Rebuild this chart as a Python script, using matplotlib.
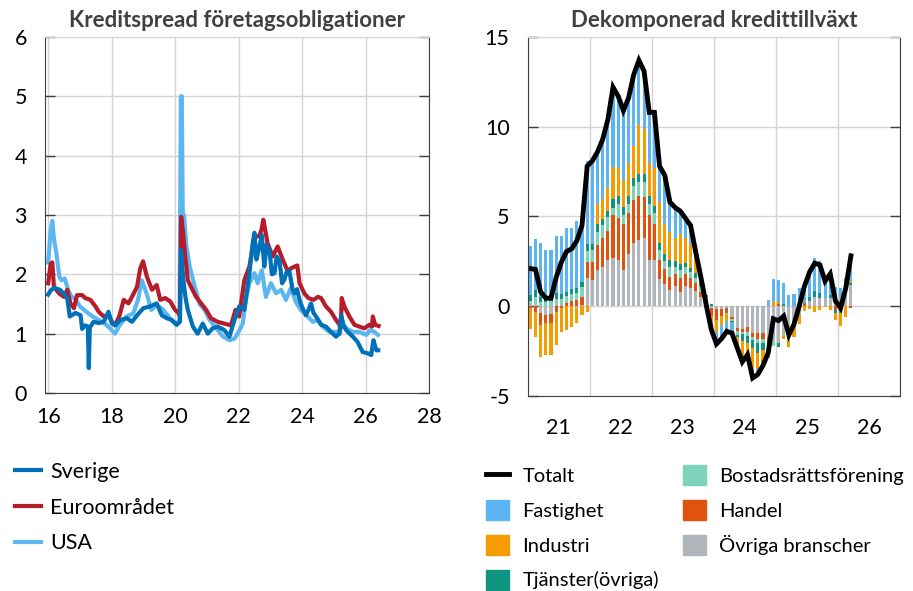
import numpy as np
import matplotlib.pyplot as plt
from matplotlib.lines import Line2D
from matplotlib.patches import Patch

plt.rcParams['font.family'] = ['Lato', 'DejaVu Sans']
plt.rcParams['axes.unicode_minus'] = False

# ---- vänster: kreditspread (procentenheter), x = år (16 = 2016)
se_x = [16.0, 16.1, 16.2, 16.37, 16.52, 16.6, 16.68, 16.86, 17.02, 17.07, 17.17, 17.25, 17.28, 17.31,
        17.43, 17.59, 17.75, 17.9, 18.01, 18.11, 18.27, 18.48, 18.64, 18.8, 19.0, 19.21, 19.42, 19.58,
        19.74, 19.9, 20.05, 20.15, 20.19, 20.23, 20.27, 20.33, 20.4, 20.56, 20.71, 20.87, 21.03, 21.18,
        21.34, 21.55, 21.71, 21.87, 22.02, 22.18, 22.34, 22.45, 22.5, 22.56, 22.65, 22.73, 22.81, 22.88,
        22.97, 23.05, 23.13, 23.2, 23.29, 23.37, 23.44, 23.52, 23.6, 23.7, 23.76, 23.84, 23.92, 24.0,
        24.12, 24.2, 24.28, 24.36, 24.44, 24.6, 24.75, 24.91, 25.07, 25.17, 25.23, 25.3, 25.39, 25.5,
        25.6, 25.75, 25.91, 26.07, 26.18, 26.22, 26.25, 26.34, 26.4]
se_y = [1.66, 1.74, 1.77, 1.74, 1.66, 1.6, 1.29, 1.35, 1.31, 1.08, 1.14, 1.12, 0.42, 1.1,
        1.2, 1.18, 1.2, 1.37, 1.17, 1.14, 1.23, 1.26, 1.2, 1.31, 1.43, 1.46, 1.51, 1.31,
        1.26, 1.23, 1.15, 1.2, 2.41, 2.1, 1.85, 1.6, 1.4, 1.12, 1.0, 1.17, 1.0, 1.09,
        1.12, 1.06, 0.95, 1.23, 1.46, 1.4, 2.02, 2.55, 2.7, 2.25, 2.45, 2.66, 2.13, 2.5,
        2.41, 2.0, 2.02, 2.3, 2.22, 1.85, 1.91, 2.05, 2.05, 1.75, 1.68, 1.75, 1.57, 1.45,
        1.31, 1.4, 1.51, 1.35, 1.29, 1.15, 1.12, 1.03, 0.95, 1.0, 1.31, 1.15, 1.06, 1.0,
        0.95, 0.86, 0.69, 0.67, 0.64, 0.8, 0.89, 0.72, 0.72]

eu_x = [16.0, 16.08, 16.13, 16.18, 16.34, 16.5, 16.6, 16.7, 16.81, 16.91, 17.07, 17.17, 17.33, 17.49,
        17.59, 17.75, 17.9, 18.01, 18.11, 18.25, 18.38, 18.53, 18.64, 18.8, 18.9, 18.99, 19.11, 19.27,
        19.42, 19.53, 19.69, 19.85, 20.0, 20.1, 20.15, 20.19, 20.24, 20.31, 20.4, 20.5, 20.66, 20.82,
        20.98, 21.13, 21.34, 21.55, 21.76, 21.9, 22.02, 22.18, 22.34, 22.5, 22.65, 22.72, 22.78, 22.91,
        23.07, 23.23, 23.39, 23.55, 23.65, 23.76, 23.85, 23.92, 24.07, 24.2, 24.36, 24.5, 24.6, 24.75,
        24.91, 25.07, 25.18, 25.22, 25.25, 25.33, 25.49, 25.65, 25.8, 25.96, 26.12, 26.2, 26.23, 26.3,
        26.41]
eu_y = [1.85, 2.18, 2.2, 1.79, 1.68, 1.62, 1.74, 1.51, 1.43, 1.65, 1.65, 1.6, 1.57, 1.46,
        1.37, 1.29, 1.31, 1.2, 1.14, 1.31, 1.57, 1.51, 1.62, 1.79, 2.1, 2.22, 1.96, 1.74,
        1.82, 1.57, 1.6, 1.54, 1.4, 1.35, 1.3, 2.97, 2.75, 2.35, 1.9, 1.79, 1.62, 1.51,
        1.4, 1.26, 1.2, 1.17, 1.14, 1.4, 1.29, 1.9, 2.13, 2.64, 2.64, 2.75, 2.92, 2.53,
        2.3, 2.47, 2.25, 2.05, 2.1, 2.13, 2.15, 1.85, 1.68, 1.6, 1.57, 1.62, 1.6, 1.46,
        1.37, 1.23, 1.15, 1.1, 1.6, 1.46, 1.29, 1.15, 1.12, 1.09, 1.15, 1.12, 1.29, 1.15,
        1.13]

us_x = [16.0, 16.08, 16.13, 16.18, 16.26, 16.35, 16.42, 16.52, 16.63, 16.73, 16.84, 17.0, 17.2, 17.4,
        17.6, 17.84, 18.0, 18.1, 18.26, 18.47, 18.68, 18.83, 18.95, 19.1, 19.25, 19.41, 19.57, 19.72,
        19.88, 20.04, 20.14, 20.18, 20.21, 20.24, 20.28, 20.35, 20.46, 20.62, 20.77, 20.93, 21.09, 21.3,
        21.51, 21.72, 21.88, 22.03, 22.13, 22.23, 22.34, 22.5, 22.6, 22.73, 22.86, 23.02, 23.18, 23.34,
        23.49, 23.65, 23.8, 23.96, 24.12, 24.34, 24.5, 24.65, 24.86, 25.07, 25.2, 25.23, 25.3, 25.39,
        25.6, 25.8, 26.02, 26.14, 26.28, 26.39]
us_y = [2.2, 2.75, 2.9, 2.6, 2.35, 1.96, 1.9, 1.93, 1.74, 1.62, 1.6, 1.46, 1.37, 1.29,
        1.23, 1.15, 1.06, 1.0, 1.15, 1.29, 1.34, 1.57, 1.9, 1.68, 1.4, 1.48, 1.43, 1.34,
        1.23, 1.15, 1.23, 5.0, 5.0, 3.03, 3.0, 2.5, 2.13, 1.79, 1.5, 1.4, 1.23, 1.09,
        0.95, 0.89, 0.92, 1.06, 1.17, 1.57, 1.85, 2.02, 1.85, 2.07, 1.62, 1.85, 1.68, 1.74,
        1.57, 1.77, 1.54, 1.4, 1.32, 1.2, 1.23, 1.12, 1.03, 1.03, 1.0, 1.29, 1.15, 1.09,
        1.03, 1.03, 0.98, 1.06, 1.03, 0.98]

# ---- höger: dekomponerad kredittillväxt, månadsdata jan 2021 - mar 2026
n_months = 63
totalt = [2.1, 2.05, 0.8, 0.45, 0.45, 1.6, 2.45, 3.05, 3.2, 3.65, 4.5, 7.8, 8.1, 8.6, 9.3, 10.4,
          12.2, 11.7, 10.9, 11.6, 12.9, 13.7, 13.1, 10.8, 10.8, 7.8, 7.3, 5.8, 5.5, 5.3, 4.9, 4.5,
          3.0, 1.6, 0.1, -1.3, -2.1, -1.8, -1.4, -1.5, -2.3, -3.1, -2.7, -4.0, -3.8, -3.3, -2.6,
          -0.7, -0.8, -0.55, -1.6, -1.0, 0.0, 1.1, 1.9, 2.4, 2.3, 1.4, 1.8, 0.3, -0.1, 1.0, 2.8]
ovriga = [0.15, 0.2, -0.4, -0.5, -0.45, 0.1, 0.05, 0.0, 0.0, -0.1, 0.05, 1.6, 1.45, 2.0, 2.2, 2.6,
          2.7, 2.6, 2.0, 2.9, 3.5, 3.7, 3.8, 2.6, 2.6, 1.5, 1.25, 0.9, 1.15, 0.8, 1.15, 1.0,
          0.85, 0.5, 0.2, -0.1, -0.13, -0.15, -0.1, -0.6, -1.2, -1.25, -1.15, -1.5, -1.5, -1.5, -1.7,
          -2.0, -2.05, -1.6, -1.6, -0.85, -0.5, 0.0, 0.3, 0.45, 0.45, 0.45, 0.45, 0.6, 0.5, 0.5, 1.15]
handel = [-0.1, -0.3, -0.65, -0.45, -0.5, -0.3, -0.1, 0.2, 0.3, 0.35, 0.45, 0.85, 1.0, 1.4, 1.6, 1.6,
          2.4, 2.3, 2.6, 2.3, 2.4, 2.45, 2.3, 2.5, 2.0, 1.1, 0.85, 0.75, 0.65, 0.75, 0.65, 0.6,
          0.45, 0.3, 0.15, -0.45, -0.65, -0.4, -0.25, -0.1, -0.2, -0.2, -0.3, -0.2, -0.35, -0.35, -0.35,
          0.0, 0.15, 0.0, 0.0, 0.0, 0.1, 0.2, 0.0, 0.0, 0.0, 0.0, 0.0, -0.2, 0.0, 0.0, -0.1]
brf = [0.15, 0.3, 0.25, 0.25, 0.3, 0.3, 0.35, 0.35, 0.4, 0.4, 0.55, 0.65, 0.7, 0.75, 0.7, 0.75,
       0.4, 0.8, 0.5, 0.5, 0.8, 0.75, 0.8, 0.6, 0.6, 0.55, 0.4, 0.55, 0.4, 0.45, 0.4, 0.3,
       0.3, 0.3, 0.15, 0.0, 0.0, 0.0, -0.1, -0.1, -0.2, -0.1, -0.2, -0.2, -0.2, -0.2, -0.2,
       -0.2, 0.0, 0.0, 0.0, 0.0, 0.0, 0.0, 0.0, 0.05, 0.0, 0.0, 0.0, 0.0, -0.15, 0.0, 0.05]
tjanster = [0.3, 0.4, 0.25, 0.3, 0.3, 0.35, 0.3, 0.25, 0.25, 0.25, 0.3, 0.35, 0.3, 0.45, 0.35, 0.35,
            0.45, 0.45, 0.45, 0.45, 0.45, 0.45, 0.45, 0.45, 0.4, 0.37, 0.4, 0.35, 0.3, 0.35, 0.2, 0.25,
            0.25, 0.2, 0.15, 0.15, 0.0, 0.0, 0.0, -0.1, -0.1, -0.4, -0.4, -0.45, -0.55, -0.4, -0.25,
            0.0, -0.2, 0.15, 0.0, 0.0, 0.0, 0.0, 0.2, 0.35, 0.3, 0.0, 0.15, -0.15, -0.2, 0.0, 0.1]
industri = [-1.15, -1.4, -1.8, -1.75, -1.75, -1.85, -1.33, -1.3, -1.15, -0.86, -0.5, -0.3, 0.0, 1.1, 1.1, 1.3,
            1.8, 1.55, 1.5, 1.85, 1.8, 2.75, 2.55, 1.85, 2.1, 2.3, 1.7, 1.6, 1.3, 1.7, 1.4, 1.3,
            0.85, 0.3, -0.25, -0.8, -0.65, -0.5, -0.35, 0.0, -0.55, -0.95, -0.5, -1.1, -0.9, -0.75, -0.4,
            0.3, 0.1, -0.25, -0.65, -0.85, -0.5, -0.25, -0.15, -0.3, -0.2, -0.05, -0.2, -0.4, -0.75, -0.6, 0.1]
fastighet = [2.75, 2.87, 3.03, 2.6, 2.55, 3.15, 3.2, 3.58, 3.43, 3.73, 3.55, 4.65, 4.6, 2.9, 3.35, 3.8,
             4.45, 4.0, 3.85, 3.6, 3.95, 3.6, 3.2, 2.8, 3.1, 2.0, 2.7, 1.65, 1.7, 1.25, 1.1, 1.05,
             0.3, 0.0, -0.1, -0.15, -0.6, -0.75, -0.6, -0.6, 0.0, -0.2, -0.15, -0.55, -0.3, -0.1, 0.33,
             1.2, 1.2, 1.15, 0.65, 0.7, 0.9, 1.15, 1.55, 1.85, 1.75, 0.95, 1.4, 0.45, 0.5, 1.1, 1.55]

farg_se, farg_eu, farg_us = '#0070b8', '#b71c2b', '#5cb7f0'
komponenter = [
    ('Övriga branscher', ovriga, '#b1b6bd'),
    ('Handel', handel, '#e2520f'),
    ('Bostadsrättsförening', brf, '#7dd3b9'),
    ('Tjänster(övriga)', tjanster, '#109482'),
    ('Industri', industri, '#f59c00'),
    ('Fastighet', fastighet, '#5db4f2'),
]

fs = 15.5
fig = plt.figure(figsize=(9.13, 5.91), dpi=100)
ax1 = fig.add_axes([0.0493, 0.335, 0.4206, 0.6024])
ax2 = fig.add_axes([0.578, 0.33, 0.4078, 0.6074])


def style(ax):
    ax.grid(True, which='major', color='#d4d4d4', lw=1)
    ax.set_axisbelow(True)
    for s in ['left', 'right', 'bottom']:
        ax.spines[s].set_color('#404040')
    ax.spines['top'].set_color('#d4d4d4')
    ax.tick_params(axis='y', direction='in', length=7, width=1, color='#404040',
                   left=True, right=True, labelsize=fs, pad=13)
    ax.tick_params(axis='x', which='both', length=0, labelsize=fs)


# vänster diagram
style(ax1)
ax1.plot(us_x, us_y, color=farg_us, lw=3)
ax1.plot(eu_x, eu_y, color=farg_eu, lw=3)
ax1.plot(se_x, se_y, color=farg_se, lw=3)
ax1.set_xlim(15.9, 28)
ax1.set_ylim(0, 6)
ax1.set_xticks(range(16, 29, 2))
ax1.set_yticks(range(0, 7))
ax1.tick_params(axis='x', pad=10)
ax1.set_title('Kreditspread företagsobligationer', fontsize=16, fontweight='bold',
              color='#404040', pad=7)

# höger diagram
style(ax2)
x = 2021 + (np.arange(n_months) + 0.5) / 12
pos = np.zeros(n_months)
neg = np.zeros(n_months)
for namn, vals, c in komponenter:
    v = np.array(vals)
    bottom = np.where(v >= 0, pos, neg)
    ax2.bar(x, v, width=0.05, bottom=bottom, color=c, linewidth=0)
    pos = pos + np.where(v > 0, v, 0)
    neg = neg + np.where(v < 0, v, 0)
ax2.plot(x, totalt, color='black', lw=3.5, solid_joinstyle='miter')
ax2.set_xlim(2021, 2027)
ax2.set_ylim(-5, 15)
ax2.set_yticks([-5, 0, 5, 10, 15])
ax2.set_xticks(range(2021, 2028), labels=[''] * 7)
ax2.set_xticks(np.arange(2021.5, 2027), labels=['21', '22', '23', '24', '25', '26'], minor=True)
ax2.tick_params(axis='x', which='minor', pad=16)
ax2.set_title('Dekomponerad kredittillväxt', fontsize=16, fontweight='bold',
              color='#404040', pad=7)

# legender
h1 = [Line2D([], [], color=farg_se, lw=3), Line2D([], [], color=farg_eu, lw=3),
      Line2D([], [], color=farg_us, lw=3)]
fig.legend(h1, ['Sverige', 'Euroområdet', 'USA'], loc='upper left',
           bbox_to_anchor=(0.007, 0.233), frameon=False, fontsize=fs,
           handlelength=1.2, handletextpad=0.42, labelspacing=0.73, borderaxespad=0)

fs2 = 14.5
orden = ['Fastighet', 'Industri', 'Tjänster(övriga)', 'Bostadsrättsförening', 'Handel', 'Övriga branscher']
farger = {namn: c for namn, _, c in komponenter}
h2 = [Line2D([], [], color='black', lw=3.5)] + [Patch(color=farger[n]) for n in orden]
fig.legend(h2, ['Totalt'] + orden, loc='upper left', ncol=2,
           bbox_to_anchor=(0.5235, 0.226), frameon=False, fontsize=fs2,
           handlelength=1.15, handleheight=1.15, handletextpad=0.65, labelspacing=0.73,
           columnspacing=1.2, borderaxespad=0)

fig.savefig('out.png', dpi=100)
